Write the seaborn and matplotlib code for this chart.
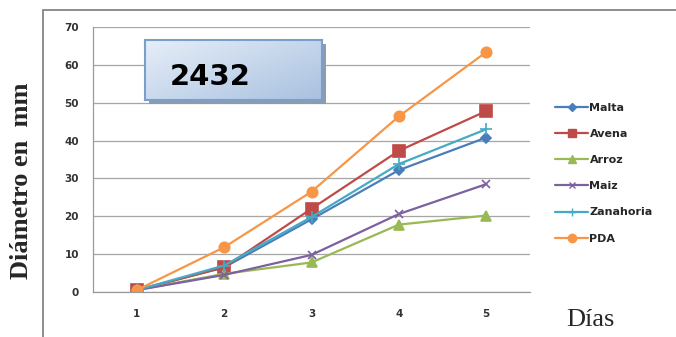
import numpy as np
import pandas as pd
import matplotlib
matplotlib.use("Agg")
import matplotlib.pyplot as plt
from matplotlib.patches import Rectangle
from matplotlib.lines import Line2D
import seaborn as sns

dias = [1, 2, 3, 4, 5]
malta = [0.5, 6.5, 19.2, 32.2, 40.8]
avena = [0.5, 6.5, 22.0, 37.3, 47.8]
arroz = [0.5, 4.8, 7.8, 17.8, 20.2]
maiz = [0.5, 4.5, 9.8, 20.6, 28.5]
zanahoria = [0.5, 7.0, 19.8, 33.8, 43.0]
pda = [0.5, 11.8, 26.5, 46.4, 63.4]

series = ["Malta", "Avena", "Arroz", "Maiz", "Zanahoria", "PDA"]
valores = [malta, avena, arroz, maiz, zanahoria, pda]
colores = ["#4A7EBB", "#BE4B48", "#98B954", "#7D60A0", "#46AAC5", "#F79646"]
marcadores = ["D", "s", "^", "x", "+", "o"]
tamanos = [5, 8, 7, 6, 8, 7.5]

df = pd.DataFrame({
    "Dia": dias * len(series),
    "Diametro": sum(valores, []),
    "Medio": np.repeat(series, len(dias)),
})

sns.set_style("white")
fig = plt.figure(figsize=(6.76, 3.37), dpi=100)
W, H = 676, 337

def fx(px):
    return px / W

def fy(py):
    return 1 - py / H

ax = fig.add_axes([fx(93), fy(292), fx(530) - fx(93), fy(27) - fy(292)])
ax.set_zorder(0)

for nombre, color, mk, ms in zip(series, colores, marcadores, tamanos):
    sub = df[df["Medio"] == nombre]
    sns.lineplot(data=sub, x="Dia", y="Diametro", ax=ax, color=color,
                 marker=mk, markersize=ms, markeredgecolor=color,
                 markeredgewidth=1.2, linewidth=1.6, label=nombre, legend=False)

ax.set_xlim(0.5, 5.5)
ax.set_ylim(0, 70)
ax.set_yticks(range(0, 71, 10))
ax.set_xticks(dias)
ax.set_xticks([0.5, 1.5, 2.5, 3.5, 4.5, 5.5], minor=True)
ax.yaxis.grid(True, color="#a6a6a6", linewidth=0.9)
ax.set_axisbelow(True)
for s in ["top", "right"]:
    ax.spines[s].set_visible(False)
for s in ["left", "bottom"]:
    ax.spines[s].set_color("#9a9a9a")
    ax.spines[s].set_linewidth(0.9)
ax.tick_params(axis="y", which="major", length=4, color="#9a9a9a", direction="out",
               labelsize=7.5, labelcolor="#333333", pad=6)
ax.tick_params(axis="x", which="major", length=0, labelsize=7.5,
               labelcolor="#333333", pad=12)
ax.tick_params(axis="x", which="minor", length=4, color="#9a9a9a", direction="out")
for lab in ax.get_xticklabels() + ax.get_yticklabels():
    lab.set_fontweight("bold")
ax.set_xlabel("")
ax.set_ylabel("")

# marco exterior del grafico
fig.add_artist(Rectangle((fx(43), fy(400)), 1, fy(10) - fy(400),
                         transform=fig.transFigure, fill=False,
                         edgecolor="#7a7a7a", linewidth=1.2))

# leyenda
handles = [Line2D([0], [0], color=c, marker=m, markersize=s * 0.8,
                  markeredgecolor=c, linewidth=1.6)
           for c, m, s in zip(colores, marcadores, tamanos)]
leg = fig.legend(handles, series, loc="upper left",
                 bbox_to_anchor=(fx(545), fy(93)), frameon=False,
                 handlelength=3.0, handletextpad=0.1, labelspacing=1.45,
                 prop={"weight": "bold", "size": 8})

# cuadro con el numero (sombra + caja con degradado)
sax = fig.add_axes([fx(149), fy(104), fx(322) - fx(145), fy(40) - fy(100)])
sax.set_facecolor("#8f9bab")
sax.set_xticks([])
sax.set_yticks([])
for s in sax.spines.values():
    s.set_visible(False)
sax.set_zorder(2)

bax = fig.add_axes([fx(145), fy(100), fx(322) - fx(145), fy(40) - fy(100)])
bax.set_zorder(3)
gx, gy = np.meshgrid(np.linspace(0, 1, 100), np.linspace(0, 1, 40))
grad = 0.55 * gx + 0.45 * gy
bax.imshow(grad, cmap=matplotlib.colors.LinearSegmentedColormap.from_list(
    "caja", ["#e6eef8", "#a9c1e0"]), aspect="auto", extent=(0, 1, 0, 1),
    origin="upper")
bax.set_xticks([])
bax.set_yticks([])
for s in bax.spines.values():
    s.set_color("#7a9fcb")
    s.set_linewidth(1.5)
bax.text(0.37, 0.38, "2432", transform=bax.transAxes, ha="center",
         va="center", fontsize=21, fontweight="bold", color="black")

fig.text(fx(22), fy(181), "Diámetro en  mm", rotation=90, ha="center",
         va="center", fontsize=19, fontweight="bold",
         family=["Liberation Serif", "DejaVu Serif"])
fig.text(fx(566), fy(309), "Días", ha="left", va="top", fontsize=19,
         family=["Liberation Serif", "DejaVu Serif"])

fig.savefig("out.png", dpi=100)
